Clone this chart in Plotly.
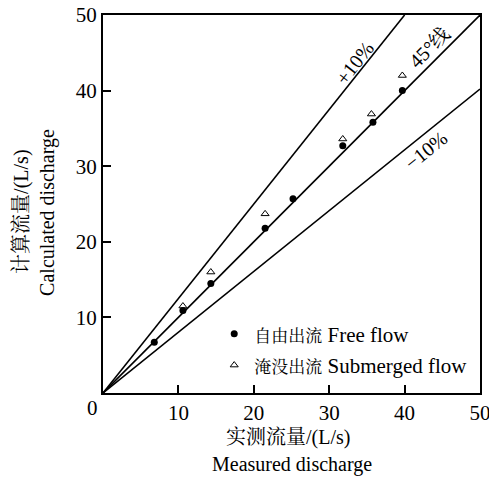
import plotly.graph_objects as go

free_x = [6.8, 10.6, 14.3, 21.5, 25.2, 31.8, 35.8, 39.7]
free_y = [6.7, 10.9, 14.5, 21.8, 25.7, 32.7, 35.8, 40.0]
sub_x = [10.6, 14.3, 21.5, 31.8, 35.6, 39.7]
sub_y = [11.5, 16.0, 23.7, 33.6, 36.9, 42.0]

line45_x = [0, 50]
line45_y = [0, 50]
plus_x = [0, 40]
plus_y = [0, 50]
minus_x = [0, 50]
minus_y = [0, 40.2]

ticks = [0, 10, 20, 30, 40, 50]

FONT = "'Liberation Serif', 'Times New Roman', 'Noto Serif CJK SC', 'Noto Sans CJK SC', serif"

fig = go.Figure()
for lx, ly in [(line45_x, line45_y), (plus_x, plus_y), (minus_x, minus_y)]:
    fig.add_trace(go.Scatter(x=lx, y=ly, mode="lines", line=dict(color="black", width=1.6),
                             showlegend=False, hoverinfo="skip"))

fig.add_trace(go.Scatter(x=free_x, y=free_y, mode="markers",
                         name="<span style='font-size:17px'>自由出流</span> Free flow",
                         legendgroup="a",
                         marker=dict(symbol="circle", size=7, color="black")))
fig.add_trace(go.Scatter(x=sub_x, y=sub_y, mode="markers",
                         name="<span style='font-size:17px'>淹没出流</span> Submerged flow",
                         legendgroup="b",
                         marker=dict(symbol="triangle-up-open", size=7, color="black",
                                     line=dict(width=1))))

annos = [
    dict(x=33.4, y=43.6, text="+10%", textangle=-52),
    dict(x=43.3, y=45.8, text="45°线", textangle=-45),
    dict(x=42.9, y=32.1, text="−10%", textangle=-39),
]
for a in annos:
    fig.add_annotation(x=a["x"], y=a["y"], text=a["text"], textangle=a["textangle"],
                       showarrow=False, font=dict(size=20, color="black", family=FONT))

fig.add_annotation(x=0, y=0, xref="x", yref="y", text="0", showarrow=False,
                   xanchor="right", yanchor="top", xshift=-3, yshift=-1,
                   font=dict(size=21, color="black", family=FONT))

# axis titles
fig.add_annotation(x=0.49, y=-0.119, xref="paper", yref="paper", text="实测流量/(L/s)",
                   showarrow=False, xanchor="center", yanchor="middle",
                   font=dict(size=20, color="black", family=FONT))
fig.add_annotation(x=0.5, y=-0.190, xref="paper", yref="paper", text="Measured discharge",
                   showarrow=False, xanchor="center", yanchor="middle",
                   font=dict(size=20, color="black", family=FONT))
fig.add_annotation(x=-0.215, y=0.479, xref="paper", yref="paper", text="计算流量/(L/s)",
                   showarrow=False, xanchor="center", yanchor="middle", textangle=-90,
                   font=dict(size=20, color="black", family=FONT))
fig.add_annotation(x=-0.146, y=0.479, xref="paper", yref="paper", text="Calculated discharge",
                   showarrow=False, xanchor="center", yanchor="middle", textangle=-90,
                   font=dict(size=20, color="black", family=FONT))

axis_common = dict(range=[0, 50], tickvals=ticks[1:], ticks="inside", ticklen=8, tickwidth=1.5,
                   tickcolor="black", showline=True, linecolor="black", linewidth=2, mirror=True,
                   showgrid=False, zeroline=False, automargin=False,
                   ticklabeloverflow="allow",
                   tickfont=dict(size=21, color="black", family=FONT))
fig.update_xaxes(**axis_common)
fig.update_yaxes(**axis_common)

fig.update_layout(
    width=489, height=478,
    margin=dict(l=103, r=9, t=15, b=85, autoexpand=False),
    plot_bgcolor="white", paper_bgcolor="white",
    font=dict(family=FONT, color="black"),
    legend=dict(x=0.295, y=0.21, xanchor="left", yanchor="top", bgcolor="rgba(0,0,0,0)",
                font=dict(size=21, color="black", family=FONT), itemwidth=30,
                tracegroupgap=1),
)

fig.write_html("out.html")
